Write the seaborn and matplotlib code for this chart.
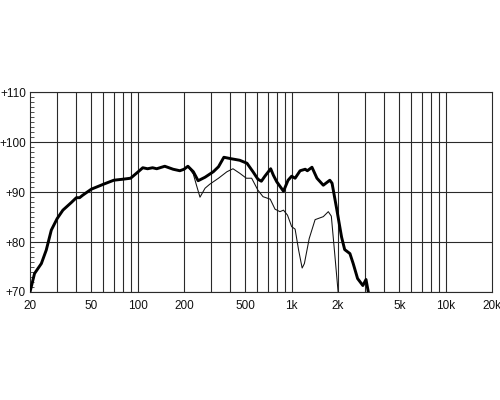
import numpy as np
import pandas as pd
import matplotlib
matplotlib.use("Agg")
import matplotlib.pyplot as plt
import seaborn as sns
from matplotlib.ticker import FixedLocator, MultipleLocator, NullFormatter

# on-axis response (thick curve)
thick_freq = [20, 21.4, 23.7, 25.5, 27.5, 30, 32.7, 37, 40, 42, 44, 50, 60, 70, 80, 90,
              100, 108, 116, 125, 133, 150, 170, 188, 200, 212, 230, 247, 274, 310, 335,
              363, 406, 460, 513, 561, 604, 636, 670, 731, 761, 800, 885, 948, 1000, 1053,
              1135, 1225, 1265, 1355, 1460, 1605, 1770, 1830, 1960, 2110, 2210, 2390, 2510,
              2680, 2900, 3040, 3160]
thick_db = [70, 73.7, 75.7, 78.4, 82.4, 84.7, 86.4, 87.9, 88.9, 88.9, 89.4, 90.6, 91.6, 92.4,
            92.6, 92.8, 94.0, 94.9, 94.7, 94.9, 94.7, 95.2, 94.6, 94.3, 94.6, 95.2, 94.1, 92.3,
            93.0, 94.1, 95.1, 97.0, 96.7, 96.4, 95.8, 94.1, 92.6, 92.2, 93.2, 94.7, 93.4, 92.1,
            90.2, 92.4, 93.2, 92.8, 94.3, 94.6, 94.3, 95.0, 92.8, 91.4, 92.4, 91.8, 86.7, 81.0,
            78.5, 77.7, 75.7, 72.7, 71.3, 72.5, 69.7]

# off-axis response (thin curve)
thin_freq = [200, 212, 230, 241, 254, 274, 294, 335, 380, 416, 460, 508, 550, 604, 652, 726,
             780, 840, 885, 940, 1000, 1053, 1110, 1170, 1210, 1300, 1420, 1605, 1730, 1810,
             1900, 2010]
thin_db = [94.6, 95.2, 93.6, 91.4, 89.0, 90.8, 91.6, 92.8, 94.1, 94.7, 93.8, 92.8, 92.8, 90.4,
           89.1, 88.6, 86.6, 86.1, 86.4, 85.4, 83.1, 82.6, 78.4, 74.8, 75.7, 80.7, 84.5, 85.1,
           86.1, 85.2, 78.0, 69.5]

grid_freqs = [30, 40, 50, 60, 70, 80, 90, 100, 200, 300, 400, 500, 600, 700, 800, 900,
              1000, 2000, 3000, 4000, 5000, 6000, 7000, 8000, 9000, 10000]
x_ticks = [20, 50, 100, 200, 500, 1000, 2000, 5000, 10000, 20000]
x_labels = ["20", "50", "100", "200", "500", "1k", "2k", "5k", "10k", "20k"]
y_ticks = [70, 80, 90, 100, 110]
y_labels = ["+70", "+80", "+90", "+100", "+110"]

sns.set_style("white")
plt.rcParams["font.family"] = ["Liberation Sans", "DejaVu Sans"]

fig = plt.figure(figsize=(5, 4), dpi=100)
ax = fig.add_axes([0.06, 0.27, 0.924, 0.499])
ax.set_xscale("log")

thick = pd.DataFrame({"freq": thick_freq, "db": thick_db})
thin = pd.DataFrame({"freq": thin_freq, "db": thin_db})
sns.lineplot(data=thin, x="freq", y="db", ax=ax, color="#111111", linewidth=0.75, zorder=3)
sns.lineplot(data=thick, x="freq", y="db", ax=ax, color="black", linewidth=2.1, zorder=4)

for f in grid_freqs:
    ax.axvline(f, color="#2a2a2a", linewidth=0.8, zorder=1)
for v in y_ticks:
    ax.axhline(v, color="#2a2a2a", linewidth=0.8, zorder=1)

ax.set_xlim(20, 20000)
ax.set_ylim(70, 110)
ax.xaxis.set_major_locator(FixedLocator(x_ticks))
ax.xaxis.set_minor_formatter(NullFormatter())
ax.xaxis.set_minor_locator(FixedLocator([]))
ax.set_xticklabels(x_labels)
ax.set_yticks(y_ticks)
ax.set_yticklabels(y_labels)
ax.yaxis.set_minor_locator(MultipleLocator(1))
ax.tick_params(axis="x", which="major", length=0, pad=6, labelsize=8.5, colors="#111111")
ax.tick_params(axis="y", which="major", length=0, pad=3, labelsize=8.5, colors="#111111")
ax.tick_params(axis="y", which="minor", direction="in", length=3, width=0.6, left=True,
               color="#333333")
ax.set_xlabel("")
ax.set_ylabel("")
for s in ax.spines.values():
    s.set_color("#2a2a2a")
    s.set_linewidth(0.8)

fig.savefig("out.png", dpi=100)
